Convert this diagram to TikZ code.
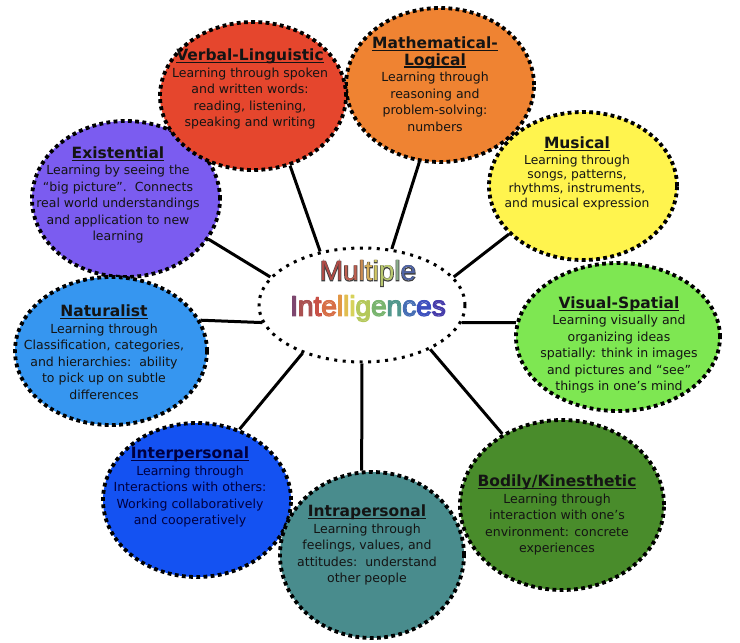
\documentclass[tikz,border=0pt]{standalone}
\usepackage{fontspec}
\setmainfont{DejaVu Sans}
\newfontfamily\hubfont{Liberation Sans}
\usetikzlibrary{shapes.geometric}
\usetikzlibrary{backgrounds}
\definecolor{verbalred}{RGB}{229,70,45}
\definecolor{mathorange}{RGB}{239,131,50}
\definecolor{musicyellow}{RGB}{255,244,78}
\definecolor{visualgreen}{RGB}{126,231,82}
\definecolor{bodilygreen}{RGB}{73,140,43}
\definecolor{intrateal}{RGB}{73,140,141}
\definecolor{interblue}{RGB}{20,82,242}
\definecolor{naturalblue}{RGB}{54,150,240}
\definecolor{existpurple}{RGB}{123,92,240}
\newlength{\headwd}
\newcommand{\heading}[1]{{\fontsize{15.5}{19}\selectfont\bfseries
  \settowidth{\headwd}{#1}\rlap{\rule[-2.6pt]{\headwd}{1.3pt}}#1}}
% letters of the title, outlined or tinted
\newif\ifoutline
\newcommand{\tint}[2]{\ifoutline#2\else\textcolor[RGB]{#1}{#2}\fi}
\newcommand{\hubtext}{%
  \tint{175,75,70}{M}\tint{190,95,80}{u}\tint{205,140,80}{l}\tint{215,175,90}{t}%
  \tint{210,200,100}{i}\tint{185,200,110}{p}\tint{140,175,140}{l}\tint{80,100,165}{e}\\
  \tint{125,70,110}{I}\tint{170,80,80}{n}\tint{200,80,70}{t}\tint{215,110,70}{e}%
  \tint{225,150,70}{l}\tint{225,190,80}{l}\tint{215,210,90}{i}\tint{180,200,90}{g}%
  \tint{120,180,110}{e}\tint{80,150,140}{n}\tint{70,110,180}{c}\tint{60,80,190}{e}%
  \tint{70,60,170}{s}}
\tikzset{
  bubble/.style 2 args={ellipse, draw=black, line width=3.8pt,
    dash pattern=on 3.8pt off 3.4pt, inner sep=0pt,
    minimum width=#1pt, minimum height=#2pt},
  blurb/.style={align=center, text=black!92,
    font=\fontsize{12.5}{16.5}\selectfont},
  spoke/.style={line width=3pt},
  hubword/.style={align=center, font=\hubfont\fontsize{28}{35}\selectfont},
}

\begin{document}
\begin{tikzpicture}[x=1pt,y=-1pt]
  \useasboundingbox (0,0) rectangle (740,643);

  % the nine intelligences
  \node[bubble={188}{156}, fill=existpurple] (existential) at (126,199) {};
  \node[bubble={192}{148}, fill=naturalblue] (naturalist) at (111,351) {};
  \node[bubble={188}{154}, fill=interblue] (interpersonal) at (197,500) {};
  \node[bubble={184}{166}, fill=intrateal] (intrapersonal) at (372,555) {};
  \node[bubble={204}{170}, fill=bodilygreen] (bodily) at (562,505) {};
  \node[bubble={204}{148}, fill=visualgreen] (visual) at (618,337) {};
  \node[bubble={188}{148}, fill=musicyellow] (musical) at (583,186) {};
  \node[bubble={188}{154}, fill=mathorange] (math) at (440,85) {};
  \node[bubble={186}{148}, fill=verbalred] (verbal) at (253,96) {};
  \node[bubble={206}{114}, fill=white, line width=3pt,
        dash pattern=on 3pt off 5.5pt] (hub) at (362,305) {};

  \begin{pgfonlayer}{background}
    \draw[spoke] (hub.128) -- (verbal.-62);
    \draw[spoke] (hub.62) -- (math.-105);
    \draw[spoke] (hub.17) -- (musical.-147);
    \draw[spoke] (hub.-10) -- (visual.172);
    \draw[spoke] (hub.-33) -- (bodily.130);
    \draw[spoke] (hub.-90) -- (intrapersonal.97);
    \draw[spoke] (hub.-141) -- (interpersonal.59);
    \draw[spoke] (hub.190) -- (naturalist.19);
    \draw[spoke] (hub.163) -- (existential.-26);
  \end{pgfonlayer}

  \node[hubword, text=black!75] (hub-rim) at (368,291)
    {\outlinetrue\special{pdf:literal direct 1 Tr 1.3 w}\hubtext\special{pdf:literal direct 0 Tr}};
  \node[hubword] (hub-t) at (368,291) {\hubtext};

  \node[blurb] (verbal-t) at (250,89) {\heading{Verbal-Linguistic}\\Learning through spoken\\and written words:\\reading, listening,\\speaking and writing};
  \node[blurb] (math-t) at (435,84) {\heading{Mathematical-}\\\heading{Logical}\\Learning through\\reasoning and\\problem-solving:\\numbers};
  \node[blurb, font=\fontsize{12.3}{14.2}\selectfont] (musical-t) at (577,173) {\heading{Musical}\\[2pt]Learning through\\songs, patterns,\\rhythms, instruments,\\and musical expression};
  \node[blurb] (visual-t) at (619,345) {\heading{Visual-Spatial}\\Learning visually and\\organizing ideas\\spatially: think in images\\and pictures and “see”\\things in one’s mind};
  \node[blurb] (bodily-t) at (557,515) {\heading{Bodily/Kinesthetic}\\Learning through\\interaction with one’s\\environment: concrete\\experiences};
  \node[blurb] (intrapersonal-t) at (367,545) {\heading{Intrapersonal}\\Learning through\\feelings, values, and\\attitudes:\ \ understand\\other people};
  \node[blurb, text=blue!25!black] (interpersonal-t) at (190,487) {\heading{Interpersonal}\\Learning through\\Interactions with others:\\Working collaboratively\\and cooperatively};
  \node[blurb] (naturalist-t) at (104,352) {\heading{Naturalist}\\Learning through\\Classification, categories,\\and hierarchies:\ \ ability\\to pick up on subtle\\differences};
  \node[blurb] (existential-t) at (118,195) {\heading{Existential}\\Learning by seeing the\\“big picture”.\ \ Connects\\real world understandings\\and application to new\\learning};
\end{tikzpicture}
\end{document}
